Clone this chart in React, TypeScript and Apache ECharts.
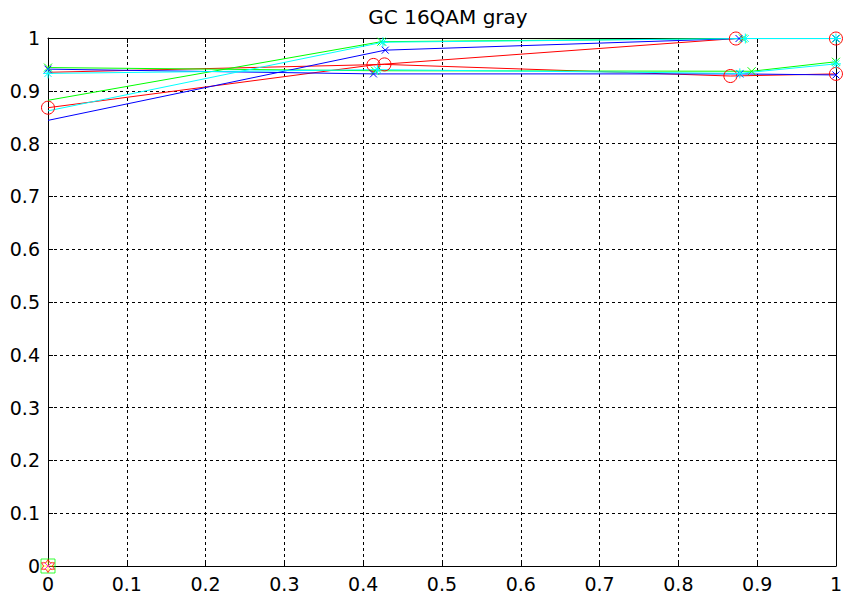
import React, { useEffect, useRef } from "react";
import * as echarts from "echarts";

// ---- data ----
const xTicks = [0, 0.1, 0.2, 0.3, 0.4, 0.5, 0.6, 0.7, 0.8, 0.9, 1];
const yTicks = [0, 0.1, 0.2, 0.3, 0.4, 0.5, 0.6, 0.7, 0.8, 0.9, 1];

const redUpX = [0, 0.413, 0.873, 1];
const redUpY = [0.868, 0.949, 0.999, 0.999];
const redLoX = [0, 0.427, 0.866, 1];
const redLoY = [0.935, 0.95, 0.928, 0.932];

const blueUpX = [0, 0.428, 0.877, 1];
const blueUpY = [0.844, 0.977, 0.999, 0.999];
const blueLoX = [0, 0.413, 0.878, 1];
const blueLoY = [0.941, 0.932, 0.932, 0.93];

const greenUpX = [0, 0.423, 0.882, 1];
const greenUpY = [0.882, 0.993, 0.999, 0.999];
const greenLoX = [0, 0.415, 0.893, 1];
const greenLoY = [0.944, 0.938, 0.937, 0.955];

const cyanUpX = [0, 0.425, 0.885, 1];
const cyanUpY = [0.862, 0.992, 0.999, 0.999];
const cyanLoX = [0, 0.418, 0.878, 1];
const cyanLoY = [0.933, 0.94, 0.933, 0.951];

// whether the first point (x = 0) carries a marker
const firstMarker = {
  redUp: true,
  redLo: false,
  blueUp: false,
  blueLo: true,
  greenUp: false,
  greenLo: true,
  cyanUp: false,
  cyanLo: true,
};

// markers stacked at the origin
const originX = [0, 0, 0, 0];
const originY = [0, 0, 0, 0];

const X_PATH = "path://M0,0L10,10M10,0L0,10";
const STAR_PATH = "path://M5,0L5,10M0,5L10,5M1.5,1.5L8.5,8.5M8.5,1.5L1.5,8.5";
const HEX_PATH =
  "path://M5,0L6.4,2.6L9.3,2.5L7.9,5L9.3,7.5L6.4,7.4L5,10L3.6,7.4L0.7,7.5L2.1,5L0.7,2.5L3.6,2.6Z";

function makeLine(
  xs: number[],
  ys: number[],
  color: string,
  symbol: string,
  size: number,
  first: boolean
) {
  return {
    type: "line",
    clip: false,
    showSymbol: true,
    symbol,
    symbolSize: size,
    data: xs.map((x, i) =>
      i === 0 && !first ? { value: [x, ys[i]], symbol: "none" } : { value: [x, ys[i]] }
    ),
    lineStyle: { color, width: 1 },
    itemStyle: { color: "transparent", borderColor: color, borderWidth: 1 },
    emphasis: { disabled: true },
    z: 3,
  };
}

function makeOrigin(x: number, y: number, color: string, symbol: string, size: number) {
  return {
    type: "scatter",
    clip: false,
    symbol,
    symbolSize: size,
    data: [[x, y]],
    itemStyle: { color: "transparent", borderColor: color, borderWidth: 1 },
    emphasis: { disabled: true },
    z: 4,
  };
}

const FONT = "DejaVu Sans";

export default function App() {
  const ref = useRef<HTMLDivElement>(null);
  useEffect(() => {
    if (!ref.current) return;
    const chart = echarts.init(ref.current, undefined, { renderer: "svg" });
    const fmt = (v: number) => String(+v.toFixed(1));
    const axisCommon = {
      type: "value",
      min: 0,
      max: 1,
      interval: 0.1,
      axisLine: { show: true, onZero: false, lineStyle: { color: "#000", width: 1 } },
      axisTick: { show: true, inside: true, length: 5, lineStyle: { color: "#000" } },
    };
    chart.setOption({
      animation: false,
      backgroundColor: "#fff",
      title: {
        text: "GC 16QAM gray",
        left: 443,
        textAlign: "center",
        top: 2,
        textStyle: { fontFamily: FONT, fontSize: 20, fontWeight: "normal", color: "#000" },
      },
      grid: { left: 48, right: 7, top: 38, bottom: 31, containLabel: false },
      xAxis: [
        {
          ...axisCommon,
          position: "bottom",
          axisLabel: {
            fontFamily: FONT,
            fontSize: 19,
            color: "#000",
            margin: 8,
            formatter: (v: number) => fmt(xTicks[Math.round(v * 10)] ?? v),
          },
          splitLine: { show: true, lineStyle: { color: "#000", type: [3, 3], width: 1 } },
        },
        {
          ...axisCommon,
          position: "top",
          axisLabel: { show: false },
          splitLine: { show: false },
        },
      ],
      yAxis: [
        {
          ...axisCommon,
          position: "left",
          axisLabel: {
            fontFamily: FONT,
            fontSize: 19,
            color: "#000",
            margin: 8,
            formatter: (v: number) => fmt(yTicks[Math.round(v * 10)] ?? v),
          },
          splitLine: { show: true, lineStyle: { color: "#000", type: [3, 3], width: 1 } },
        },
        {
          ...axisCommon,
          position: "right",
          axisLabel: { show: false },
          splitLine: { show: false },
        },
      ],
      series: [
        makeLine(redUpX, redUpY, "#ff0000", "circle", 13, firstMarker.redUp),
        makeLine(redLoX, redLoY, "#ff0000", "circle", 13, firstMarker.redLo),
        makeLine(greenUpX, greenUpY, "#00ff00", X_PATH, 8, firstMarker.greenUp),
        makeLine(greenLoX, greenLoY, "#00ff00", X_PATH, 8, firstMarker.greenLo),
        makeLine(blueUpX, blueUpY, "#0000ff", X_PATH, 7, firstMarker.blueUp),
        makeLine(blueLoX, blueLoY, "#0000ff", X_PATH, 7, firstMarker.blueLo),
        makeLine(cyanUpX, cyanUpY, "#00ffff", STAR_PATH, 10, firstMarker.cyanUp),
        makeLine(cyanLoX, cyanLoY, "#00ffff", STAR_PATH, 10, firstMarker.cyanLo),
        makeOrigin(originX[0], originY[0], "#00ff00", "rect", 14),
        makeOrigin(originX[1], originY[1], "#ffff00", STAR_PATH, 12),
        makeOrigin(originX[2], originY[2], "#ff0000", HEX_PATH, 13),
        makeOrigin(originX[3], originY[3], "#ff00ff", X_PATH, 6),
      ],
    });
    return () => chart.dispose();
  }, []);
  return (
    <div
      ref={ref}
      style={{ position: "fixed", left: 0, top: 0, width: 845, height: 597, background: "#fff" }}
    />
  );
}
